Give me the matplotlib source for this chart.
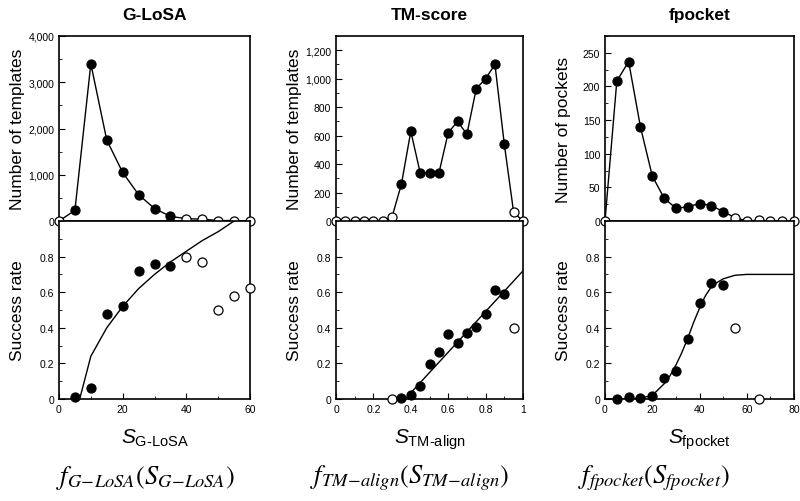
import matplotlib
matplotlib.use('Agg')
import matplotlib.pyplot as plt
from matplotlib.ticker import FuncFormatter, MultipleLocator

plt.rcParams['font.family'] = ['Liberation Sans', 'DejaVu Sans']
plt.rcParams['mathtext.fontset'] = 'custom'
plt.rcParams['mathtext.rm'] = 'Liberation Sans'
plt.rcParams['mathtext.it'] = 'Liberation Sans:italic'

# ---- G-LoSA ----
glosa_x = [0, 5, 10, 15, 20, 25, 30, 35, 40, 45, 50, 55, 60]
glosa_count = [0, 230, 3400, 1750, 1050, 570, 270, 100, 50, 40, 10, 10, 0]
glosa_count_filled = [False, True, True, True, True, True, True, True, False, False, False, False, False]
glosa_rate_x = [5, 10, 15, 20, 25, 30, 35, 40, 45, 50, 55, 60]
glosa_rate = [0.01, 0.06, 0.48, 0.52, 0.72, 0.76, 0.75, 0.795, 0.77, 0.50, 0.58, 0.625]
glosa_rate_filled = [True, True, True, True, True, True, True, False, False, False, False, False]
glosa_fit_x = [6.5, 10, 15, 20, 25, 30, 35, 40, 45, 50, 55]
glosa_fit_y = [0, 0.24, 0.40, 0.52, 0.62, 0.70, 0.77, 0.83, 0.89, 0.94, 1.0]

# ---- TM-score ----
tm_x = [0, 0.05, 0.1, 0.15, 0.2, 0.25, 0.3, 0.35, 0.4, 0.45, 0.5, 0.55, 0.6,
        0.65, 0.7, 0.75, 0.8, 0.85, 0.9, 0.95, 1.0]
tm_count = [0, 0, 0, 0, 0, 0, 30, 260, 630, 340, 335, 335, 620,
            700, 610, 930, 1000, 1100, 540, 60, 0]
tm_count_filled = [False] * 7 + [True] * 12 + [False] * 2
tm_rate_x = [0.3, 0.35, 0.4, 0.45, 0.5, 0.55, 0.6, 0.65, 0.7, 0.75, 0.8, 0.85, 0.9, 0.95]
tm_rate = [0.0, 0.005, 0.02, 0.075, 0.195, 0.265, 0.365, 0.315, 0.37, 0.405, 0.48, 0.61, 0.59, 0.40]
tm_rate_filled = [False] + [True] * 12 + [False]
tm_fit_x = [0.37, 1.0]
tm_fit_y = [0.0, 0.72]

# ---- fpocket ----
fp_x = [0, 5, 10, 15, 20, 25, 30, 35, 40, 45, 50, 55, 60, 65, 70, 75, 80]
fp_count = [0, 208, 237, 140, 67, 34, 19, 21, 26, 23, 14, 5, 0, 1, 0, 0, 0]
fp_count_filled = [False] + [True] * 10 + [False] * 6
fp_rate_x = [5, 10, 15, 20, 25, 30, 35, 40, 45, 50, 55, 65]
fp_rate = [0.0, 0.01, 0.005, 0.015, 0.12, 0.16, 0.335, 0.54, 0.65, 0.64, 0.40, 0.0]
fp_rate_filled = [True] * 10 + [False, False]
fp_fit_x = [0, 10, 15, 20, 25, 27.5, 30, 32.5, 35, 37.5, 40, 42.5, 45, 47.5, 50, 55, 60, 70, 80]
fp_fit_y = [0, 0.001, 0.005, 0.02, 0.085, 0.13, 0.19, 0.26, 0.34, 0.43, 0.51, 0.58, 0.63, 0.655, 0.675, 0.695, 0.70, 0.70, 0.70]

panels = [
    dict(title='G-LoSA', left=59, width=191, xmax=60, xmajor=20, xminor=10,
         ymax=4000, ymajor=1000, yminor=500, ylabel='Number of templates',
         x=glosa_x, count=glosa_count, cfill=glosa_count_filled,
         rx=glosa_rate_x, rate=glosa_rate, rfill=glosa_rate_filled,
         fx=glosa_fit_x, fy=glosa_fit_y,
         xlabel=r'$\mathit{S}_{\mathrm{G\text{-}LoSA}}$',
         formula=r'$f_{G\!-\!LoSA}(S_{G\!-\!LoSA})$', fpos=145),
    dict(title='TM-score', left=336, width=187, xmax=1, xmajor=0.2, xminor=0.1,
         ymax=1300, ymajor=200, yminor=100, ylabel='Number of templates',
         x=tm_x, count=tm_count, cfill=tm_count_filled,
         rx=tm_rate_x, rate=tm_rate, rfill=tm_rate_filled,
         fx=tm_fit_x, fy=tm_fit_y,
         xlabel=r'$\mathit{S}_{\mathrm{TM\text{-}align}}$',
         formula=r'$f_{TM\!-\!align}(S_{TM\!-\!align})$', fpos=410),
    dict(title='fpocket', left=605, width=189, xmax=80, xmajor=20, xminor=10,
         ymax=275, ymajor=50, yminor=25, ylabel='Number of pockets',
         x=fp_x, count=fp_count, cfill=fp_count_filled,
         rx=fp_rate_x, rate=fp_rate, rfill=fp_rate_filled,
         fx=fp_fit_x, fy=fp_fit_y,
         xlabel=r'$\mathit{S}_{\mathrm{fpocket}}$',
         formula=r'$f_{fpocket}(S_{fpocket})$', fpos=654),
]

W, H = 800, 502
fig = plt.figure(figsize=(8, 5.02), dpi=100)


def scatter_split(ax, xs, ys, filled):
    for x, y, f in zip(xs, ys, filled):
        ax.plot(x, y, 'o', ms=6.5, mec='black', mew=0.9,
                mfc='black' if f else 'white', clip_on=False, zorder=5)


def fmt_rate(v, pos):
    return '0' if abs(v) < 1e-9 else '%.1f' % v


for p in panels:
    left = p['left'] / W
    width = p['width'] / W
    ax_top = fig.add_axes([left, 1 - 222 / H, width, 185 / H])
    ax_bot = fig.add_axes([left, 1 - 400 / H, width, 178 / H])

    # top panel: counts
    ax_top.plot(p['x'], p['count'], color='black', lw=1.0, clip_on=False, zorder=4)
    scatter_split(ax_top, p['x'], p['count'], p['cfill'])
    ax_top.set_xlim(0, p['xmax'])
    ax_top.set_ylim(0, p['ymax'])
    ax_top.yaxis.set_major_locator(MultipleLocator(p['ymajor']))
    ax_top.yaxis.set_minor_locator(MultipleLocator(p['yminor']))
    ax_top.yaxis.set_major_formatter(FuncFormatter(lambda v, pos: '{:,.0f}'.format(v)))
    ax_top.tick_params(axis='x', bottom=False, labelbottom=False)
    ax_top.set_ylabel(p['ylabel'], fontsize=12.5)
    ax_top.set_title(p['title'], fontsize=12.5, fontweight='bold', pad=12)

    # bottom panel: success rate
    ax_bot.plot(p['fx'], p['fy'], color='black', lw=1.0, zorder=3)
    scatter_split(ax_bot, p['rx'], p['rate'], p['rfill'])
    ax_bot.set_xlim(0, p['xmax'])
    ax_bot.set_ylim(0, 1)
    ax_bot.set_yticks([0, 0.2, 0.4, 0.6, 0.8])
    ax_bot.yaxis.set_minor_locator(MultipleLocator(0.1))
    ax_bot.yaxis.set_major_formatter(FuncFormatter(fmt_rate))
    ax_bot.xaxis.set_major_locator(MultipleLocator(p['xmajor']))
    ax_bot.xaxis.set_minor_locator(MultipleLocator(p['xminor']))
    ax_bot.xaxis.set_major_formatter(FuncFormatter(lambda v, pos: '{:g}'.format(v)))
    ax_bot.set_ylabel('Success rate', fontsize=12.5)
    ax_bot.set_xlabel(p['xlabel'], fontsize=15, labelpad=9)

    for ax in (ax_top, ax_bot):
        for s in ax.spines.values():
            s.set_linewidth(1.2)
        ax.tick_params(which='both', direction='in', labelsize=7.5, right=False, top=False)
        ax.tick_params(which='major', length=4)
        ax.tick_params(which='minor', length=2.5)
        ax.yaxis.set_label_coords(-34 / p['width'], 0.5)

    fig.text(p['fpos'] / W, 1 - 478 / H, p['formula'], fontsize=19,
             ha='center', va='center', math_fontfamily='stix')

fig.savefig('out.png', dpi=100)
